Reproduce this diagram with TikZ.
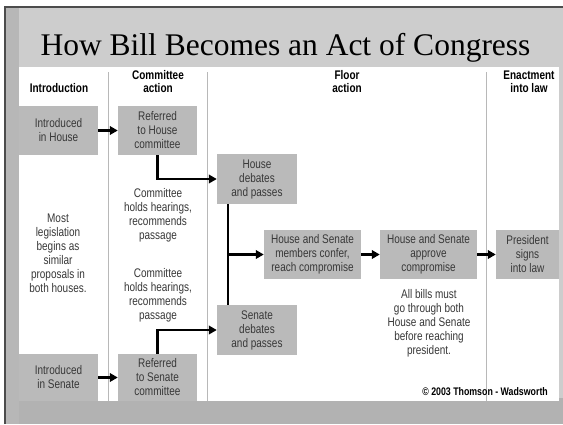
\documentclass[tikz,border=0pt]{standalone}
\usepackage{fontspec}
\setmainfont{Liberation Serif}
\newfontfamily\condfont[FakeStretch=0.8]{Liberation Sans}
\newfontfamily\condbold[FakeStretch=0.8]{Liberation Sans Bold}
\usetikzlibrary{arrows.meta,calc}
\definecolor{boxgray}{HTML}{BABABA}
\definecolor{bggray}{HTML}{CDCDCD}
\definecolor{bgdark}{HTML}{B2B2B2}
\definecolor{txtgray}{HTML}{383838}
\begin{document}
\begin{tikzpicture}[x=1pt,y=-1pt,
  box/.style={fill=boxgray, inner sep=0pt, align=center, text=txtgray,
    font=\condfont\fontsize{12.5}{14}\selectfont},
  note/.style={inner sep=0pt, align=center, text=txtgray,
    font=\condfont\fontsize{12.5}{14}\selectfont},
  hdr/.style={inner sep=0pt, align=center,
    font=\condbold\fontsize{12.5}{13.5}\selectfont},
  flow/.style={line width=2.6pt, -{Triangle[length=8pt,width=8.5pt]}},
  trunk/.style={line width=2.6pt},
  divider/.style={draw=black!28, line width=0.8pt}]
\useasboundingbox (0,0) rectangle (563,424);
% background
\fill[white] (0,0) rectangle (563,424);
\fill[bggray] (5,7) rectangle (563,424);
\fill[bgdark] (5,398) rectangle (563,424);
\fill[bgdark!80!bggray] (5,7) rectangle (19,424);
\draw[black!70, line width=1.2pt] (5,424) -- (5,7) -- (563,7);
% panel
\fill[white] (19,67) rectangle (559,401);
\draw[divider] (108,72) -- (108,401);
\draw[divider] (207,72) -- (207,401);
\draw[divider] (486,72) -- (486,401);
% title
\node[anchor=base, inner sep=0pt, font=\fontsize{31.5}{36}\selectfont] (title) at (285.5,55) {How Bill Becomes an Act of Congress};
% headers
\node[hdr] (h1) at (59,88) {Introduction};
\node[hdr] (h2) at (158,81.5) {Committee\\action};
\node[hdr] (h3) at (347,81.5) {Floor\\action};
\node[hdr] (h4) at (529,82) {Enactment\\into law};
% boxes
\node[box, minimum width=79pt, minimum height=49pt] (ih) at (58.5,130.5) {Introduced\\in House};
\node[box, minimum width=79pt, minimum height=49pt] (rh) at (157.5,130.5) {Referred\\to House\\committee};
\node[box, minimum width=80pt, minimum height=50pt] (hd) at (257,179) {House\\debates\\and passes};
\node[box, minimum width=97pt, minimum height=49pt] (conf) at (312.5,254.5) {House and Senate\\members confer,\\reach compromise};
\node[box, minimum width=97pt, minimum height=49pt] (appr) at (428.5,254.5) {House and Senate\\approve\\compromise};
\node[box, minimum width=63pt, minimum height=49pt] (pres) at (527.5,254.5) {President\\signs\\into law};
\node[box, minimum width=80pt, minimum height=50pt] (sd) at (257,330) {Senate\\debates\\and passes};
\node[box, minimum width=79pt, minimum height=47pt] (is) at (58.5,377.5) {Introduced\\in Senate};
\node[box, minimum width=79pt, minimum height=47pt] (rs) at (157.5,377.5) {Referred\\to Senate\\committee};
% notes
\node[note] (n1) at (58,253) {Most\\legislation\\begins as\\similar\\proposals in\\both houses.};
\node[note] (n2) at (158,215) {Committee\\holds hearings,\\recommends\\passage};
\node[note] (n3) at (158,295) {Committee\\holds hearings,\\recommends\\passage};
\node[note] (n4) at (429,323) {All bills must\\go through both\\House and Senate\\before reaching\\president.};
\node[anchor=base east, inner sep=0pt, font=\condbold\fontsize{11}{12}\selectfont] (copy) at (548,395) {\textcopyright{} 2003 Thomson - Wadsworth};
% connectors
\draw[flow] (ih.east) -- (rh.west);
\draw[flow] (rh.south) |- (hd.west);
\coordinate (vt) at ($(hd.south west)+(11,0)$);
\coordinate (vb) at (vt |- sd.north);
\draw[trunk] (vt) -- (vb);
\draw[flow] (vt |- conf.west) -- (conf.west);
\draw[flow] (conf.east) -- (appr.west);
\draw[flow] (appr.east) -- (pres.west);
\draw[flow] (is.east) -- (rs.west);
\draw[flow] (rs.north) |- (sd.west);
\end{tikzpicture}
\end{document}
